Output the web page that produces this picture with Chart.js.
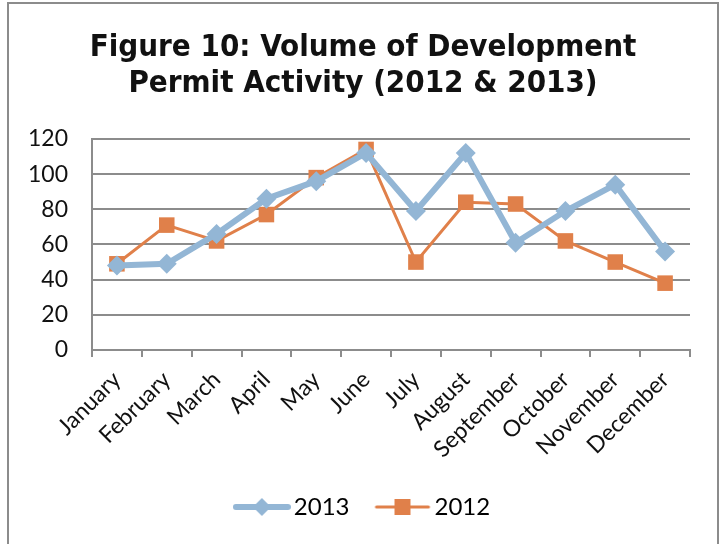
<!DOCTYPE html>
<html><head><meta charset="utf-8">
<script src="https://cdn.jsdelivr.net/npm/chart.js@4/dist/chart.umd.min.js"></script>
<style>
html,body{margin:0;padding:0;background:#fff;}
#frame{position:absolute;left:7px;top:2px;width:708px;height:560px;border:2px solid #8c8c8c;border-bottom:none;}
#wrap{position:absolute;left:0;top:0;width:719px;height:544px;}
</style></head>
<body>
<div id="frame"></div>
<div id="wrap"><canvas id="c" width="719" height="544"></canvas></div>
<script>
const months = ["January","February","March","April","May","June","July","August","September","October","November","December"];
const values2013 = [48,49,66,86,96,112,79,112,61,79,94,56];
const values2012 = [49,71,62,77,98,114,50,84,83,62,50,38];
const yTicks = [0,20,40,60,80,100,120];
const titleLines = ["Figure 10: Volume of Development","Permit Activity (2012 & 2013)"];

const blue = '#93B6D5', orange = '#E0804A';
const FONT = 'Lato, "Open Sans", sans-serif';

function legendIcon(color, lw, style){
  const c = document.createElement('canvas');
  c.width = 58; c.height = 20;
  const x = c.getContext('2d');
  x.strokeStyle = color; x.lineWidth = lw; x.lineCap='round';
  x.beginPath(); x.moveTo(3,10); x.lineTo(55,10); x.stroke();
  x.fillStyle = color;
  if(style==='diamond'){
    x.beginPath(); x.moveTo(29,1); x.lineTo(38,10); x.lineTo(29,19); x.lineTo(20,10); x.closePath(); x.fill();
  } else {
    x.fillRect(21,2,16,16);
  }
  return c;
}
const icons = [legendIcon(blue,6,'diamond'), legendIcon(orange,3,'rect')];

const shiftBoxes = {
  id:'shiftBoxes',
  afterLayout(chart){
    if(chart.legend){ chart.legend.left += 10; chart.legend.right += 10; }
    if(chart.titleBlock){ chart.titleBlock.left += 7; chart.titleBlock.right += 7; }
  }
};

new Chart(document.getElementById('c'), {
  type:'line',
  data:{
    labels: months,
    datasets:[
      {label:'2013', data: values2013, borderColor: blue, backgroundColor: blue, borderWidth: 6,
       pointStyle:'rectRot', pointRadius: 10, pointHoverRadius:10, pointBorderWidth:0, tension:0},
      {label:'2012', data: values2012, borderColor: orange, backgroundColor: orange, borderWidth: 3,
       pointStyle:'rect', pointRadius: 11, pointHoverRadius:11, pointBorderWidth:0, tension:0}
    ]
  },
  plugins:[shiftBoxes],
  options:{
    responsive:false, animation:false,
    layout:{padding:{top:30,left:22,right:29,bottom:15}},
    plugins:{
      title:{display:true, text:titleLines, color:'#111',
        font:{family:'"DejaVu Sans Condensed",sans-serif', size:31, weight:'bold', lineHeight:1.16},
        padding:{top:0,bottom:37}},
      legend:{position:'bottom', labels:{
        usePointStyle:true, pointStyleWidth:40, color:'#111', font:{family:FONT,size:24}, boxHeight:20, padding:33,
        generateLabels:(chart)=>chart.data.datasets.map((d,i)=>({text:d.label, pointStyle:icons[i], fillStyle:d.borderColor, strokeStyle:d.borderColor, lineWidth:0, datasetIndex:i, hidden:false}))
      }},
      tooltip:{enabled:false}
    },
    scales:{
      x:{
        offset:true,
        afterFit:(s)=>{s.height = 112;},
        grid:{offset:true, drawOnChartArea:false, drawTicks:true, tickLength:7, color:'#8c8c8c', lineWidth:2},
        border:{color:'#8c8c8c', width:2},
        ticks:{color:'#111', font:{family:FONT,size:23}, maxRotation:45, minRotation:45, padding:9}
      },
      y:{
        min:0, max:120,
        afterBuildTicks:(s)=>{s.ticks = yTicks.map(v=>({value:v}));},
        afterFit:(s)=>{s.width = 70;},
        grid:{color:'#8c8c8c', lineWidth:2, drawTicks:false},
        border:{color:'#8c8c8c', width:2},
        ticks:{color:'#111', font:{family:FONT,size:23}, padding:24}
      }
    }
  }
});
</script>
</body></html>
